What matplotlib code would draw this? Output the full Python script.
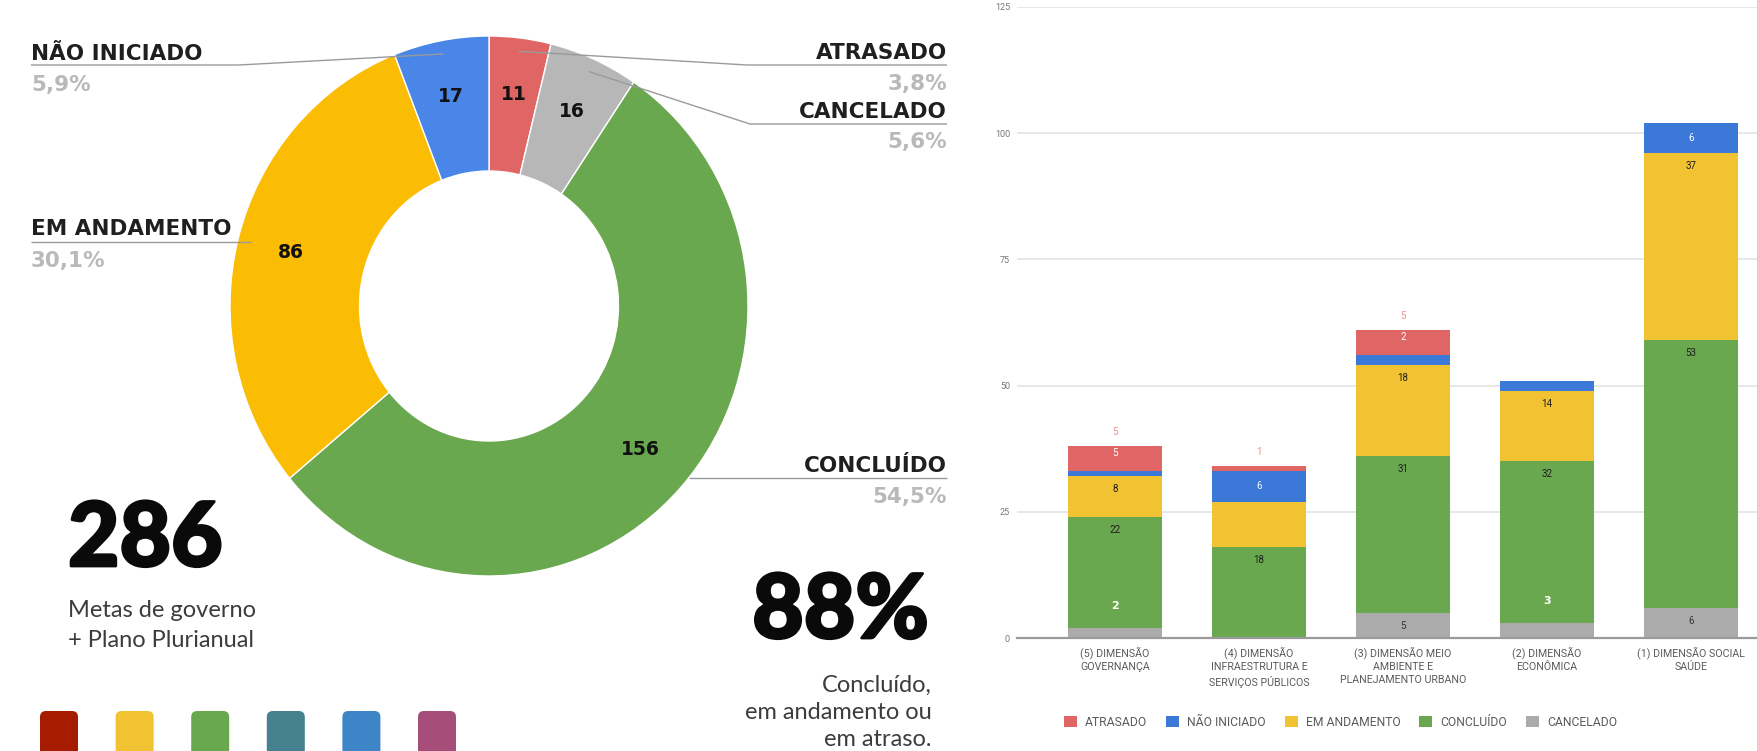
import matplotlib
matplotlib.use("Agg")
import matplotlib.pyplot as plt
from matplotlib.patches import FancyBboxPatch, Patch
import matplotlib.patheffects as pe
import numpy as np

W, H, DPI = 1758, 751, 100

# ---------------- data ----------------
donut_status = ["ATRASADO", "CANCELADO", "CONCLUÍDO", "EM ANDAMENTO", "NÃO INICIADO"]
donut_counts = [11, 16, 156, 86, 17]
donut_colors = ["#e06666", "#b7b7b7", "#6aa84f", "#fbbc04", "#4a86e8"]

dimension_labels = [
    "(5) DIMENSÃO\nGOVERNANÇA",
    "(4) DIMENSÃO\nINFRAESTRUTURA E\nSERVIÇOS PÚBLICOS",
    "(3) DIMENSÃO MEIO\nAMBIENTE E\nPLANEJAMENTO URBANO",
    "(2) DIMENSÃO\nECONÔMICA",
    "(1) DIMENSÃO SOCIAL\nSAÚDE",
]
atrasado = [5, 1, 5, 0, 0]
nao_iniciado = [1, 6, 2, 2, 6]
em_andamento = [8, 9, 18, 14, 37]
concluido = [22, 18, 31, 32, 53]
cancelado = [2, 0, 5, 3, 6]

# data labels as printed on the bars ("" = not shown)
atrasado_inner = ["5", "", "2", "", ""]
atrasado_above = ["5", "1", "5", "", ""]
nao_iniciado_inner = ["", "6", "", "", "6"]
em_andamento_inner = ["8", "", "18", "14", "37"]
concluido_inner = ["22", "18", "31", "32", "53"]
cancelado_inner = ["", "", "5", "", "6"]
cancelado_ghost = ["2", "", "", "3", ""]

yticks = [0, 25, 50, 75, 100, 125]
legend_order = ["ATRASADO", "NÃO INICIADO", "EM ANDAMENTO", "CONCLUÍDO", "CANCELADO"]
dimension_palette = ["#a61c00", "#f1c232", "#6aa84f", "#45818e", "#3d85c6", "#a64d79"]
total_caption = ["Metas de governo", "+ Plano Plurianual"]
share_caption = ["Concluído,", "em andamento ou", "em atraso."]

plt.rcParams["font.family"] = ["DejaVu Sans"]

fig = plt.figure(figsize=(W / DPI, H / DPI), dpi=DPI)
fig.patch.set_facecolor("white")


def fx(x):
    return x / W


def fy(y):
    return 1 - y / H


# ---------------- donut ----------------
CX, CY, RX, RY = 489, 306, 259, 270
ax_d = fig.add_axes([fx(CX - RX), fy(CY + RY), 2 * RX / W, 2 * RY / H])
wedges, _ = ax_d.pie(donut_counts, colors=donut_colors, startangle=90, counterclock=False,
                     radius=1.0, wedgeprops=dict(width=0.5, edgecolor="white", linewidth=1.0))
ax_d.set_xlim(-1, 1)
ax_d.set_ylim(-1, 1)
ax_d.set_aspect("auto")
ax_d.axis("off")

mid_angles = {}
for w, n, s in zip(wedges, donut_counts, donut_status):
    mid = (w.theta1 + w.theta2) / 2
    mid_angles[s] = mid
    t = np.deg2rad(mid)
    ax_d.text(0.79 * np.cos(t), 0.79 * np.sin(t), str(n), ha="center", va="center",
              fontsize=13.5, fontweight="bold", color="#111111")

# pixel overlay
ax_o = fig.add_axes([0, 0, 1, 1], zorder=5)
ax_o.set_xlim(0, W)
ax_o.set_ylim(H, 0)
ax_o.axis("off")


def donut_px(r, theta_deg):
    t = np.deg2rad(theta_deg)
    disp = ax_d.transData.transform((r * np.cos(t), r * np.sin(t)))
    return ax_o.transData.inverted().transform(disp)


total = sum(donut_counts)
callouts = {
    "ATRASADO": dict(side="right", x=947, base=59, line=65, elbow=747, pct=90, r=0.95),
    "CANCELADO": dict(side="right", x=947, base=118, line=124, elbow=750, pct=148, r=0.95),
    "CONCLUÍDO": dict(side="right", x=947, base=472, line=478, elbow=None, pct=503, r=1.0),
    "EM ANDAMENTO": dict(side="left", x=31, base=235, line=242, elbow=None, pct=267, r=0.95),
    "NÃO INICIADO": dict(side="left", x=31, base=60, line=65, elbow=239, pct=91, r=0.95),
}
line_col = "#9a9a9a"
for s, c in zip(donut_status, donut_counts):
    L = callouts[s]
    ha = "left" if L["side"] == "left" else "right"
    ax_o.text(L["x"], L["base"], s, ha=ha, va="baseline", fontsize=15.5, fontweight="bold",
              color="#1f1f1f")
    pct = f"{100 * c / total:.1f}".replace(".", ",") + "%"
    ax_o.text(L["x"], L["pct"], pct, ha=ha, va="baseline", fontsize=15.5, fontweight="bold",
              color="#b9b9b9")
    if L["elbow"] is not None:
        ex, ey = donut_px(L["r"], mid_angles[s])
        xs = [L["x"], L["elbow"], ex]
        ys = [L["line"], L["line"], ey]
    else:
        yd = (CY - L["line"]) / RY
        dx = RX * np.sqrt(max(L["r"] ** 2 - yd ** 2, 0))
        ex = CX - dx if L["side"] == "left" else CX + dx
        xs = [L["x"], ex]
        ys = [L["line"], L["line"]]
    ax_o.plot(xs, ys, color=line_col, lw=1.0, solid_capstyle="butt")

# big numbers
big_font = ["Lato", "DejaVu Sans"]
heavy = [pe.withStroke(linewidth=2, foreground="#0a0a0a")]
ax_o.text(68, 566, f"{total}", ha="left", va="baseline", fontsize=64,
          fontweight="black", family=big_font, color="#0a0a0a", path_effects=heavy)
for i, t in enumerate(total_caption):
    ax_o.text(68, 617 + 30 * i, t, ha="left", va="baseline", fontsize=17,
              fontweight="normal", family=["Lato", "DejaVu Sans"], color="#3c3c3c")

share = round(100 * (donut_counts[2] + donut_counts[3] + donut_counts[0]) / total)
ax_o.text(929, 638, f"{share}%", ha="right", va="baseline", fontsize=64,
          fontweight="black", family=big_font, color="#0a0a0a", path_effects=heavy)
for i, t in enumerate(share_caption):
    ax_o.text(932, 692 + 27 * i, t, ha="right", va="baseline", fontsize=17,
              fontweight="normal", family=["Lato", "DejaVu Sans"], color="#3c3c3c")

for i, col in enumerate(dimension_palette):
    ax_o.add_patch(FancyBboxPatch((40 + 75.6 * i, 711), 38, 45,
                                  boxstyle="round,pad=0,rounding_size=6",
                                  facecolor=col, edgecolor="none"))

# ---------------- stacked bars ----------------
ax_b = fig.add_axes([fx(1017), fy(638), (W - 1017) / W, (638 - 7) / H])
x = np.arange(len(dimension_labels))
stack = [
    ("CANCELADO", cancelado, "#ababab", cancelado_inner, "#333333", 13),
    ("CONCLUÍDO", concluido, "#6aa84f", concluido_inner, "#1e1e1e", 13),
    ("EM ANDAMENTO", em_andamento, "#f1c232", em_andamento_inner, "#1e1e1e", 13),
    ("NÃO INICIADO", nao_iniciado, "#3c78d8", nao_iniciado_inner, "#ffffff", 15),
    ("ATRASADO", atrasado, "#e06666", atrasado_inner, "#ffffff", 7),
]
colors_by_name = {}
bottom = np.zeros(len(x))
for name, vals, col, labels, tcol, off in stack:
    vals = np.array(vals, dtype=float)
    ax_b.bar(x, vals, 0.65, bottom=bottom, color=col, zorder=2, linewidth=0)
    colors_by_name[name] = col
    tops = bottom + vals
    for i, lab in enumerate(labels):
        if lab:
            ax_b.annotate(lab, xy=(x[i], tops[i]), xytext=(0, -off * 0.72),
                          textcoords="offset points", ha="center", va="center",
                          fontsize=7, color=tcol, family=["Roboto", "DejaVu Sans"], zorder=4)
    bottom = tops

for i, lab in enumerate(cancelado_ghost):
    if lab:
        ax_b.annotate(lab, xy=(x[i], cancelado[i]), xytext=(0, 22 * 0.72),
                      textcoords="offset points", ha="center", va="center",
                      fontsize=8, fontweight="bold", color="#ffffff", zorder=4)
for i, lab in enumerate(atrasado_above):
    if lab:
        ax_b.annotate(lab, xy=(x[i], bottom[i]), xytext=(0, 14 * 0.72),
                      textcoords="offset points", ha="center", va="center",
                      fontsize=7, color="#ea8f8f", family=["Roboto", "DejaVu Sans"], zorder=4)

ax_b.set_xlim(-0.68, 4.465)
ax_b.set_ylim(0, 125)
ax_b.set_yticks(yticks)
ax_b.set_yticklabels([str(v) for v in yticks], fontsize=6.5, color="#777777",
                     family=["Roboto", "DejaVu Sans"])
ax_b.set_xticks(x)
ax_b.set_xticklabels(dimension_labels, fontsize=7.7, color="#5a5a5a",
                     family=["Roboto", "DejaVu Sans"], linespacing=1.4)
ax_b.tick_params(length=0, pad=5)
ax_b.tick_params(axis="x", pad=6)
ax_b.yaxis.grid(True, color="#e3e3e3", lw=1.2, zorder=0)
ax_b.set_axisbelow(True)
for sp in ax_b.spines.values():
    sp.set_visible(False)
ax_b.axhline(0, color="#9a9a9a", lw=1.6, zorder=3, clip_on=False)

handles = [Patch(facecolor=colors_by_name[n], edgecolor="none", label=n) for n in legend_order]
leg = fig.legend(handles=handles, loc="center left", bbox_to_anchor=(fx(1064), fy(722)),
                 ncol=5, frameon=False, handlelength=1.08, handleheight=1.08,
                 handletextpad=0.67, columnspacing=1.55, borderaxespad=0, borderpad=0,
                 prop={"family": ["Roboto", "DejaVu Sans"], "size": 8.7})
for t in leg.get_texts():
    t.set_color("#5a5a5a")

fig.savefig("out.png", dpi=DPI, facecolor="white")
